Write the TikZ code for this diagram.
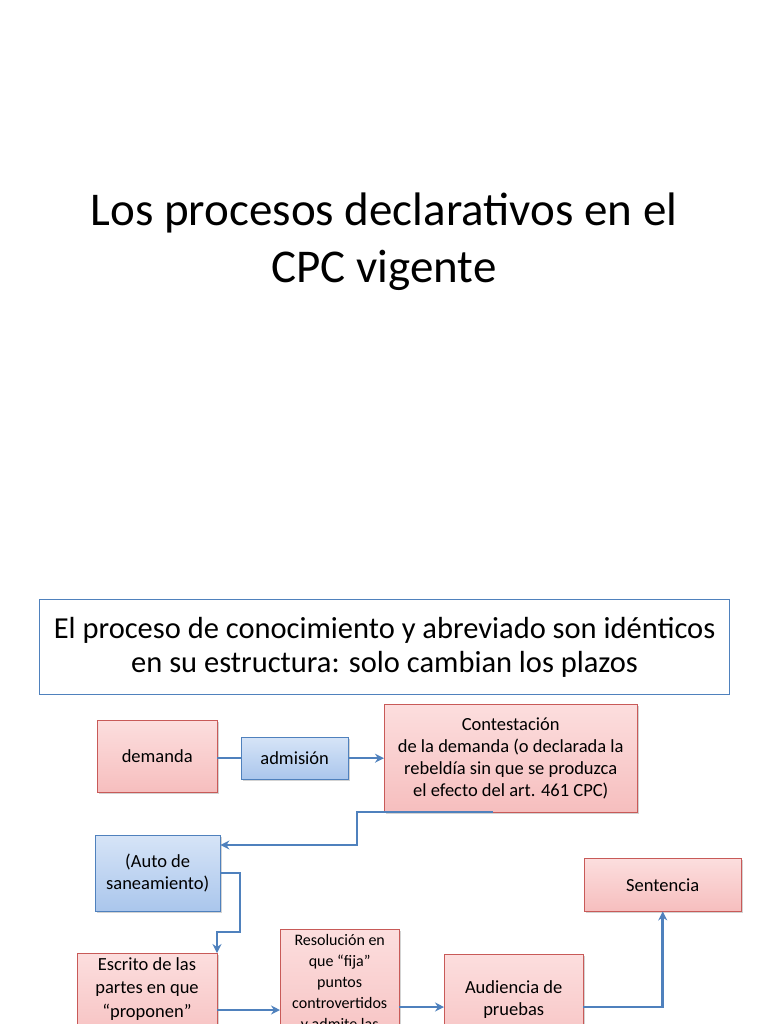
\documentclass[tikz,border=0pt]{standalone}
\usepackage{fontspec}
\setmainfont{Carlito}
\usetikzlibrary{positioning,arrows.meta,shadows}
\definecolor{redfill}{RGB}{246,190,190}
\definecolor{redtop}{RGB}{252,222,222}
\definecolor{redline}{RGB}{200,90,88}
\definecolor{bluefill}{RGB}{170,198,236}
\definecolor{bluetop}{RGB}{214,228,247}
\definecolor{blueline}{RGB}{79,129,189}
\definecolor{colortext}{RGB}{0,0,0}
\tikzset{
  base/.style={text=colortext,align=center,inner sep=2pt,anchor=north west,
    drop shadow={shadow xshift=2pt,shadow yshift=-2pt,opacity=.35}},
  redbox/.style={base,draw=redline,top color=redtop,bottom color=redfill,font={\fontsize{18.5}{22}\selectfont}},
  bluebox/.style={base,draw=blueline,top color=bluetop,bottom color=bluefill,font={\fontsize{18.5}{22}\selectfont}},
  link/.style={draw=blueline,line width=2.5pt},
  arrow/.style={link,-{Stealth[length=9pt,width=9pt]}},
}
\begin{document}
\begin{tikzpicture}[x=1pt,y=-1pt]
    \useasboundingbox (0,0) rectangle (768,1024);
    \clip (0,0) rectangle (768,1024);

    % Title
    \node[font={\fontsize{47}{57}\selectfont},align=center] (title) at (384,242)
        {Los procesos declarativos en el\\CPC vigente};

    % Subtitle box
    \node[draw=blueline,line width=1.2pt,minimum width=690pt,minimum height=95pt,anchor=north west,
        align=center,font={\fontsize{30.5}{34}\selectfont}] (subtitle) at (39,599)
        {El proceso de conocimiento y abreviado son idénticos\\en su estructura: solo cambian los plazos};

    % First row
    \node[redbox,minimum width=120pt,minimum height=72pt] (demanda) at (97,720) {demanda};
    \node[bluebox,minimum width=107pt,minimum height=42pt] (admision) at (241,737) {admisión};
    \node[redbox,minimum width=253pt,minimum height=108pt] (contest) at (384,704)
        {Contestación\\de la demanda (o declarada la\\rebeldía sin que se produzca\\el efecto del art. 461 CPC)};

    % Second row
    \node[bluebox,minimum width=125pt,minimum height=76pt] (auto) at (95,835) {(Auto de\\saneamiento)};
    \node[redbox,minimum width=157pt,minimum height=53pt] (sentencia) at (584,858) {Sentencia};

    % Third row
    \node[redbox,minimum width=138pt,minimum height=95pt,anchor=north,font={\fontsize{18.5}{23.5}\selectfont}] (escrito) at (147,953)
        {Escrito de las\\partes en que\\“proponen”\\medios de prueba};
    \node[redbox,minimum width=119pt,minimum height=130pt,font={\fontsize{16}{21}\selectfont}] (resol) at (280,929)
        {Resolución en\\que “fija”\\puntos\\controvertidos\\y admite las\\pruebas};
    \node[redbox,minimum width=139pt,minimum height=110pt] (audiencia) at (444,954)
        {Audiencia de\\pruebas\\};

    % Connectors
    \coordinate (b1) at (493,812);
    \coordinate (b2) at (357,812);
    \coordinate (b3) at (240,873);
    \coordinate (b4) at (217,932);
    \draw[link] (demanda.east |- admision.west) -- (admision.west);
    \draw[arrow] (admision.east) -- (admision.east -| contest.west);
    \draw[arrow] (b1) -- (b2) |- (auto.east |- 0,845);
    \draw[arrow] (auto.east |- b3) -| (b4 -| b3) -- (b4) -- (b4 |- escrito.north);
    \draw[arrow] (escrito.east |- 0,1010) -- (resol.west |- 0,1010);
    \draw[arrow] (resol.east |- 0,1007) -- (audiencia.west |- 0,1007);
    \draw[arrow] (audiencia.east |- 0,1007) -| (sentencia.south);
\end{tikzpicture}
\end{document}
